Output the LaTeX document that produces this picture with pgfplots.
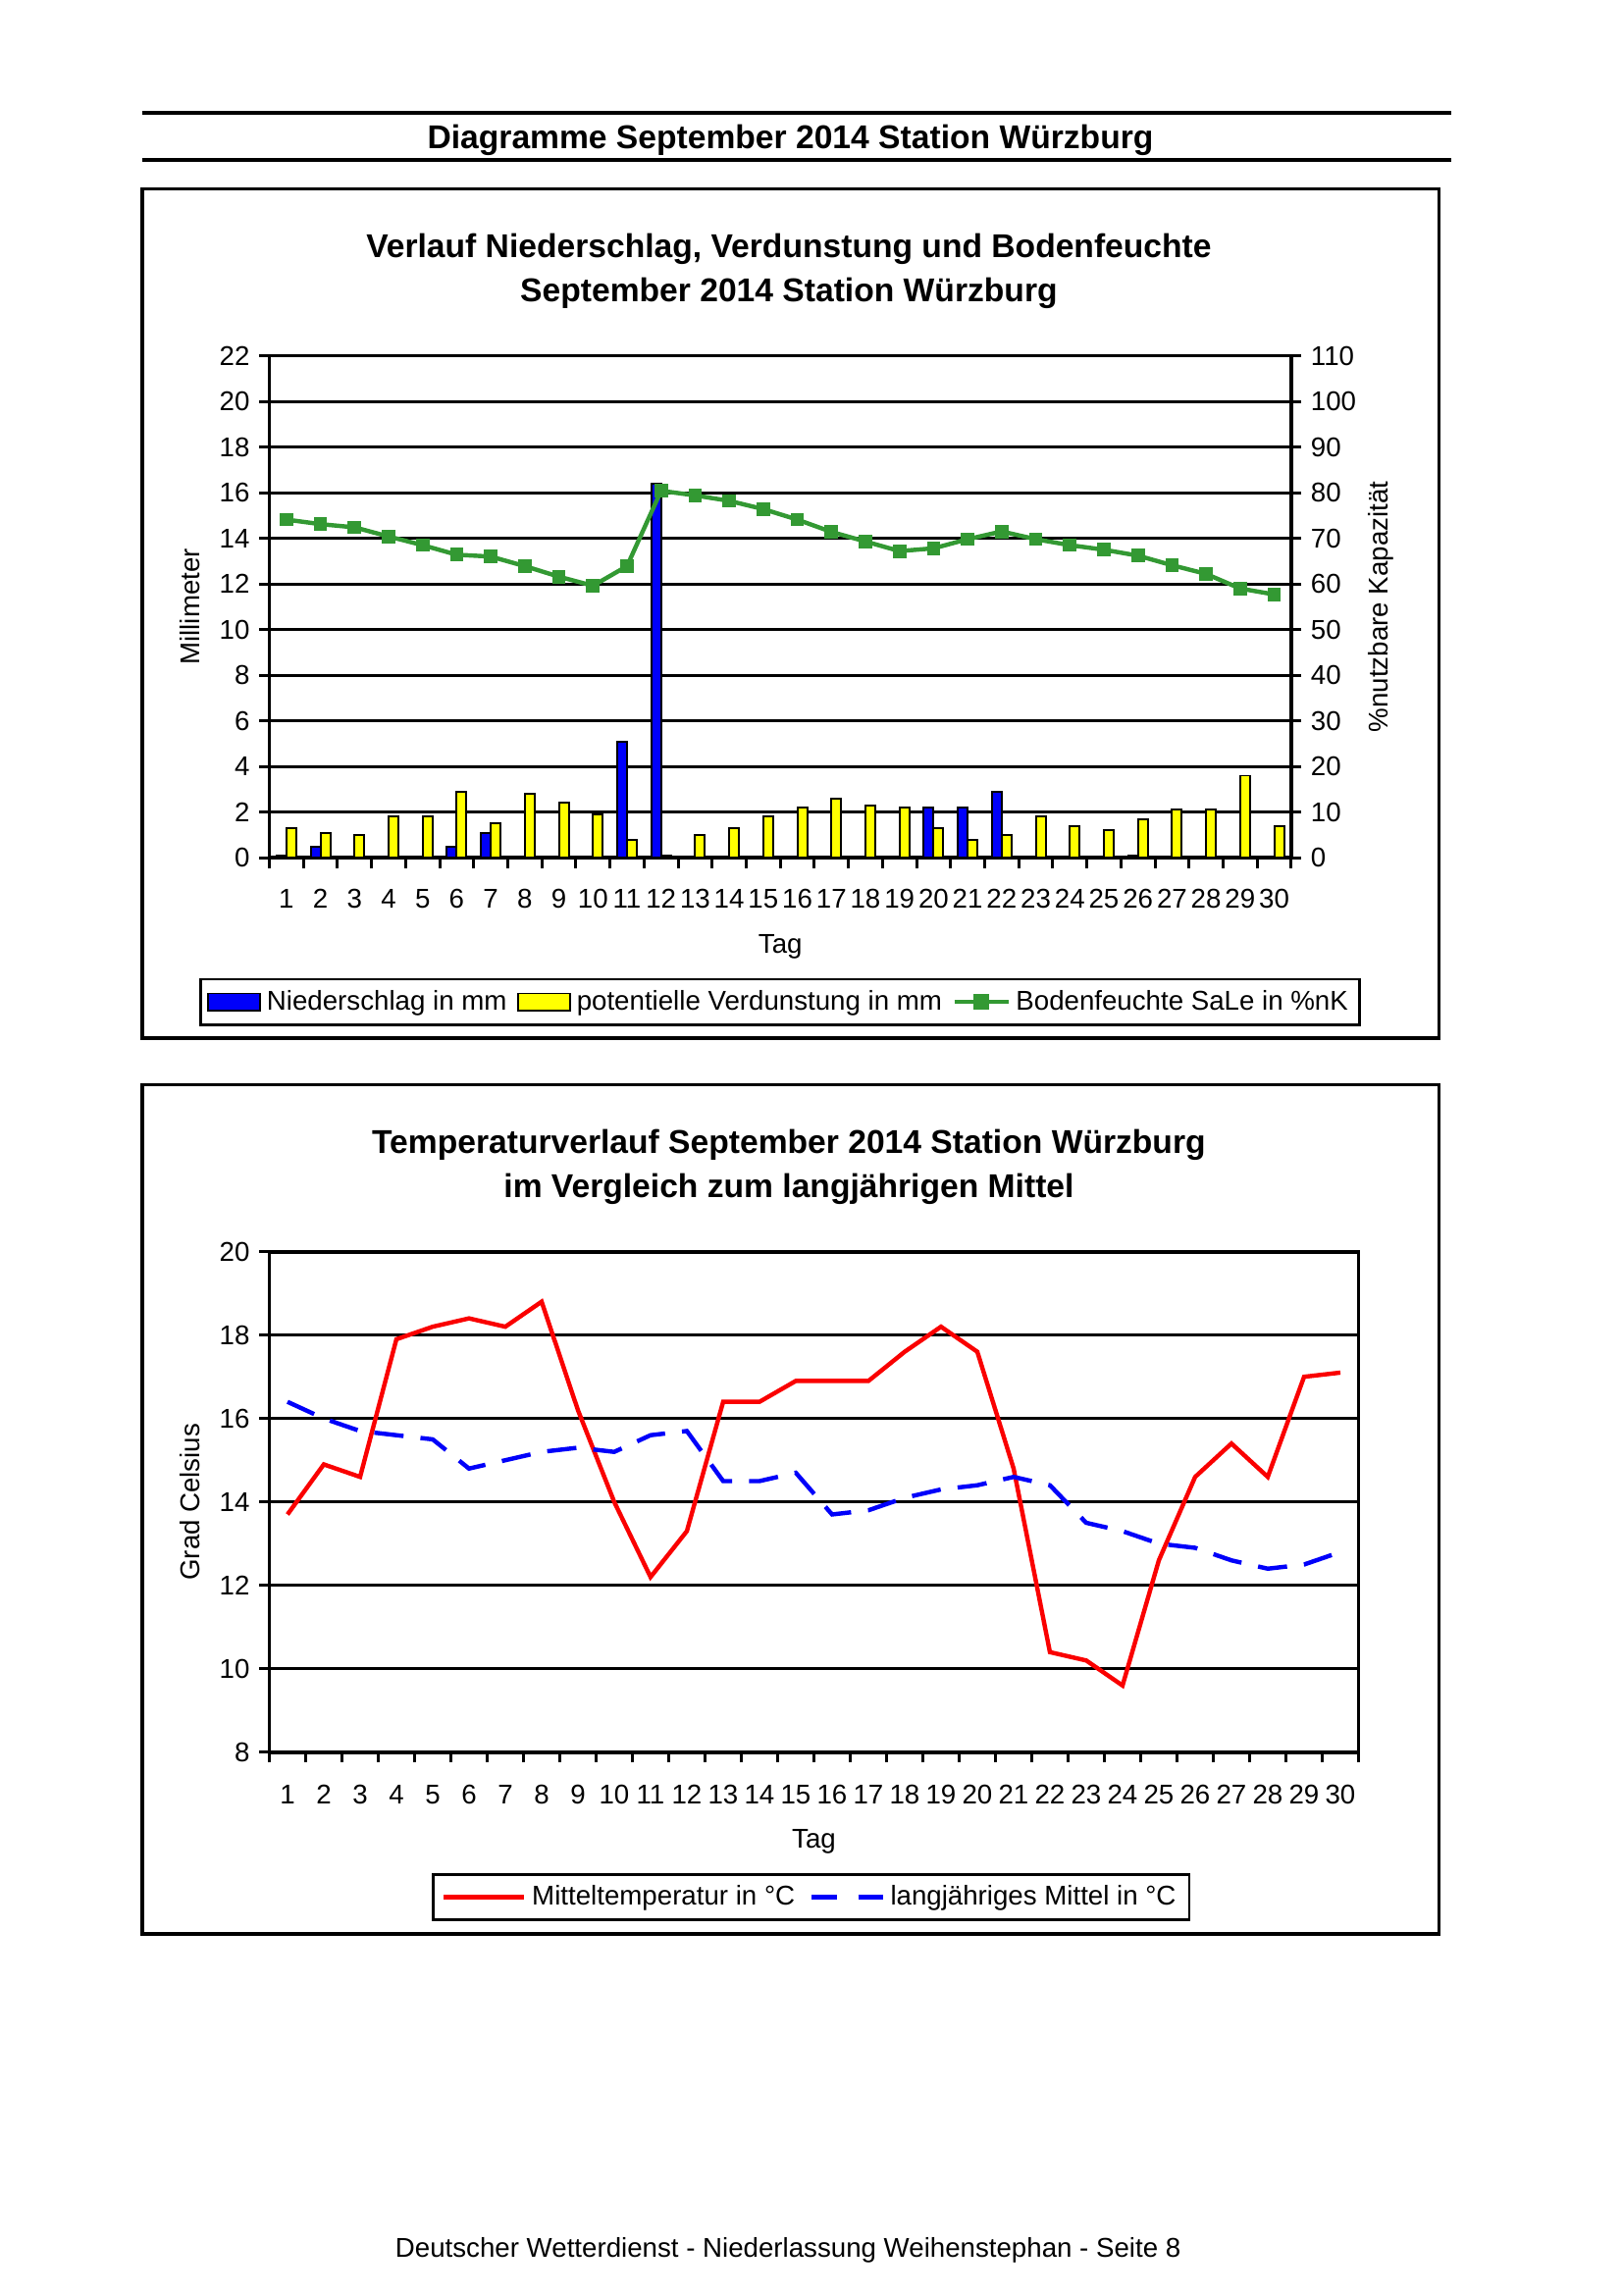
\documentclass[border=0pt]{standalone}
\usepackage{fontspec}
\setmainfont{Liberation Sans}
\usepackage{pgfplots}
\usepackage{pgfplotstable}
\pgfplotsset{compat=1.18}

\definecolor{nsblue}{RGB}{0,0,250}
\definecolor{vdyellow}{RGB}{255,255,0}
\definecolor{bfgreen}{RGB}{51,153,51}
\definecolor{tred}{RGB}{250,0,0}
\definecolor{tblue}{RGB}{0,0,250}

\newcommand\basefont{\fontsize{10}{12}\selectfont}
\newcommand\titlefont{\fontsize{12.15}{14}\selectfont\bfseries}

\pgfplotstableread{
tag ns
1 0.1
2 0.5
6 0.5
7 1.1
11 5.1
12 16.4
20 2.2
21 2.2
22 2.9
26 0.1
}\niederschlag

\pgfplotstableread{
tag vd
1 1.3
2 1.1
3 1.0
4 1.8
5 1.8
6 2.9
7 1.5
8 2.8
9 2.4
10 1.9
11 0.8
12 0.1
13 1.0
14 1.3
15 1.8
16 2.2
17 2.6
18 2.3
19 2.2
20 1.3
21 0.8
22 1.0
23 1.8
24 1.4
25 1.2
26 1.7
27 2.1
28 2.1
29 3.6
30 1.4
}\verdunstung

\pgfplotstableread{
tag bf
1 74.1
2 73.1
3 72.4
4 70.4
5 68.5
6 66.4
7 66.0
8 63.9
9 61.6
10 59.6
11 63.9
12 80.4
13 79.4
14 78.2
15 76.4
16 74.1
17 71.4
18 69.3
19 67.2
20 67.8
21 69.8
22 71.5
23 69.8
24 68.5
25 67.5
26 66.2
27 64.1
28 62.2
29 59.0
30 57.7
}\bodenfeuchte

\pgfplotstableread{
tag tm lm
1 13.7 16.4
2 14.9 16.0
3 14.6 15.7
4 17.9 15.6
5 18.2 15.5
6 18.4 14.8
7 18.2 15.0
8 18.8 15.2
9 16.2 15.3
10 14.0 15.2
11 12.2 15.6
12 13.3 15.7
13 16.4 14.5
14 16.4 14.5
15 16.9 14.7
16 16.9 13.7
17 16.9 13.8
18 17.6 14.1
19 18.2 14.3
20 17.6 14.4
21 14.8 14.6
22 10.4 14.4
23 10.2 13.5
24 9.6 13.3
25 12.6 13.0
26 14.6 12.9
27 15.4 12.6
28 14.6 12.4
29 17.0 12.5
30 17.1 12.8
}\temperatur

\pgfplotsset{
  every axis/.append style={font=\basefont},
  /pgf/number format/assume math mode=true,
  dayaxis/.style={
    scale only axis,
    xmin=0.5, xmax=30.5,
    xtick={1,...,30},
    minor xtick={0.5,1.5,...,30.5},
    tick align=outside,
    major tick length=1.3mm,
    minor tick length=1.3mm,
    tick style={black, line width=1.1pt},
    major x tick style={draw=none},
    xtick pos=bottom,
    ytick pos=left,
    ymajorgrids,
    grid style={black, line width=1.1pt},
    axis line style={black, line width=1.4pt},
    tick label style={font=\basefont},
    label style={font=\basefont},
    legend style={font=\basefont, draw=black, line width=1pt,
      inner ysep=0.7mm},
  },
}

\begin{document}
\begin{tikzpicture}
\fill[white] (0,0) rectangle (209.93mm,-297.18mm);
\path[use as bounding box] (0,0) rectangle (209.93mm,-297.18mm);

% header
\draw[line width=1.4pt] (18.38mm,-14.59mm) -- (187.77mm,-14.59mm);
\draw[line width=1.4pt] (18.38mm,-20.65mm) -- (187.77mm,-20.65mm);
\node[font=\titlefont, anchor=base] at (102.3mm,-19.3mm) {Diagramme September 2014 Station Würzburg};

% boxes
\draw[line width=1.4pt] (18.38mm,-24.44mm) rectangle (186.25mm,-134.34mm);
\draw[line width=1.4pt] (18.38mm,-140.4mm) rectangle (186.25mm,-250.3mm);

% titles
\node[font=\titlefont, anchor=base] at (102.1mm,-33.3mm) {Verlauf Niederschlag, Verdunstung und Bodenfeuchte};
\node[font=\titlefont, anchor=base] at (102.1mm,-39.0mm) {September 2014 Station Würzburg};
\node[font=\titlefont, anchor=base] at (102.1mm,-149.3mm) {Temperaturverlauf September 2014 Station Würzburg};
\node[font=\titlefont, anchor=base] at (102.1mm,-155.0mm) {im Vergleich zum langjährigen Mittel};

% chart 1, left axis (mm)
\begin{axis}[dayaxis,
  at={(34.86mm,-111.03mm)}, anchor=south west,
  width=132.26mm, height=64.99mm,
  ymin=0, ymax=22, ytick={0,2,...,22},
  ybar=0pt, bar width=1.27mm,
  xticklabel style={yshift=-1.5mm},
  xlabel={Tag}, ylabel={Millimeter},
  xlabel style={at={(axis description cs:0.5,-0.178)}, anchor=center},
  ylabel style={at={(axis description cs:-0.0776,0.5)}, anchor=center},
  legend columns=3,
  legend style={at={(0.5,-0.287)}, anchor=center, inner xsep=0.8mm,
    /tikz/every even column/.append style={column sep=0.6mm}},
]
\addplot[fill=nsblue, draw=black, line width=0.7pt,
  legend image code/.code={\draw[fill=nsblue,draw=black,line width=0.7pt] (0mm,-1.1mm) rectangle (6.8mm,1.1mm);}]
  table[x=tag, y=ns] {\niederschlag};
\addplot[fill=vdyellow, draw=black, line width=0.7pt,
  legend image code/.code={\draw[fill=vdyellow,draw=black,line width=0.7pt] (0mm,-1.1mm) rectangle (6.8mm,1.1mm);}]
  table[x=tag, y=vd] {\verdunstung};
\addlegendimage{legend image code/.code={\draw[bfgreen,line width=1.6pt] (0mm,0mm) -- (7mm,0mm); \fill[bfgreen] (3.5mm,0mm) +(-0.8mm,-0.8mm) rectangle +(0.8mm,0.8mm);}}
\legend{Niederschlag in mm, potentielle Verdunstung in mm, Bodenfeuchte SaLe in \%nK}
\end{axis}

% chart 1, right axis (%nK)
\begin{axis}[
  scale only axis,
  at={(34.86mm,-111.03mm)}, anchor=south west,
  width=132.26mm, height=64.99mm,
  xmin=0.5, xmax=30.5, ymin=0, ymax=110,
  axis x line=none, axis y line*=right,
  ytick={0,10,...,110},
  tick align=outside, major tick length=1.3mm,
  tick style={black, line width=1.1pt},
  axis line style={black, line width=1.4pt},
  tick label style={font=\basefont},
  label style={font=\basefont},
  ylabel={\%nutzbare Kapazität},
  ylabel style={at={(axis description cs:1.0876,0.5)}, anchor=center},
]
\addplot[bfgreen, line width=1.6pt, mark=square*, mark size=2.3pt,
  mark options={fill=bfgreen, draw=bfgreen, line width=0pt}]
  table[x=tag, y=bf] {\bodenfeuchte};
\end{axis}

% chart 2
\begin{axis}[dayaxis,
  at={(34.86mm,-226.8mm)}, anchor=south west,
  width=140.97mm, height=64.8mm,
  ymin=8, ymax=20, ytick={8,10,...,20},
  xticklabel style={yshift=-1.7mm},
  xlabel={Tag}, ylabel={Grad Celsius},
  xlabel style={at={(axis description cs:0.5,-0.179)}, anchor=center},
  ylabel style={at={(axis description cs:-0.0728,0.5)}, anchor=center},
  legend columns=2,
  legend style={at={(0.4976,-0.289)}, anchor=center, inner xsep=1.0mm,
    /tikz/every even column/.append style={column sep=1.2mm}},
]
\addplot[tred, line width=1.6pt,
  legend image code/.code={\draw[tred,line width=1.6pt] (0mm,0mm) -- (10.5mm,0mm);}]
  table[x=tag, y=tm] {\temperatur};
\addplot[tblue, line width=1.6pt, dash pattern=on 3.8mm off 2.2mm,
  legend image code/.code={\draw[tblue,line width=1.6pt,dash pattern=on 3.2mm off 2.8mm] (0mm,0mm) -- (9.2mm,0mm);}]
  table[x=tag, y=lm] {\temperatur};
\legend{Mitteltemperatur in °C, langjähriges Mittel in °C}
\end{axis}

% footer
\node[font=\basefont, anchor=base] at (102.0mm,-292.2mm) {Deutscher Wetterdienst - Niederlassung Weihenstephan - Seite 8};
\end{tikzpicture}
\end{document}
